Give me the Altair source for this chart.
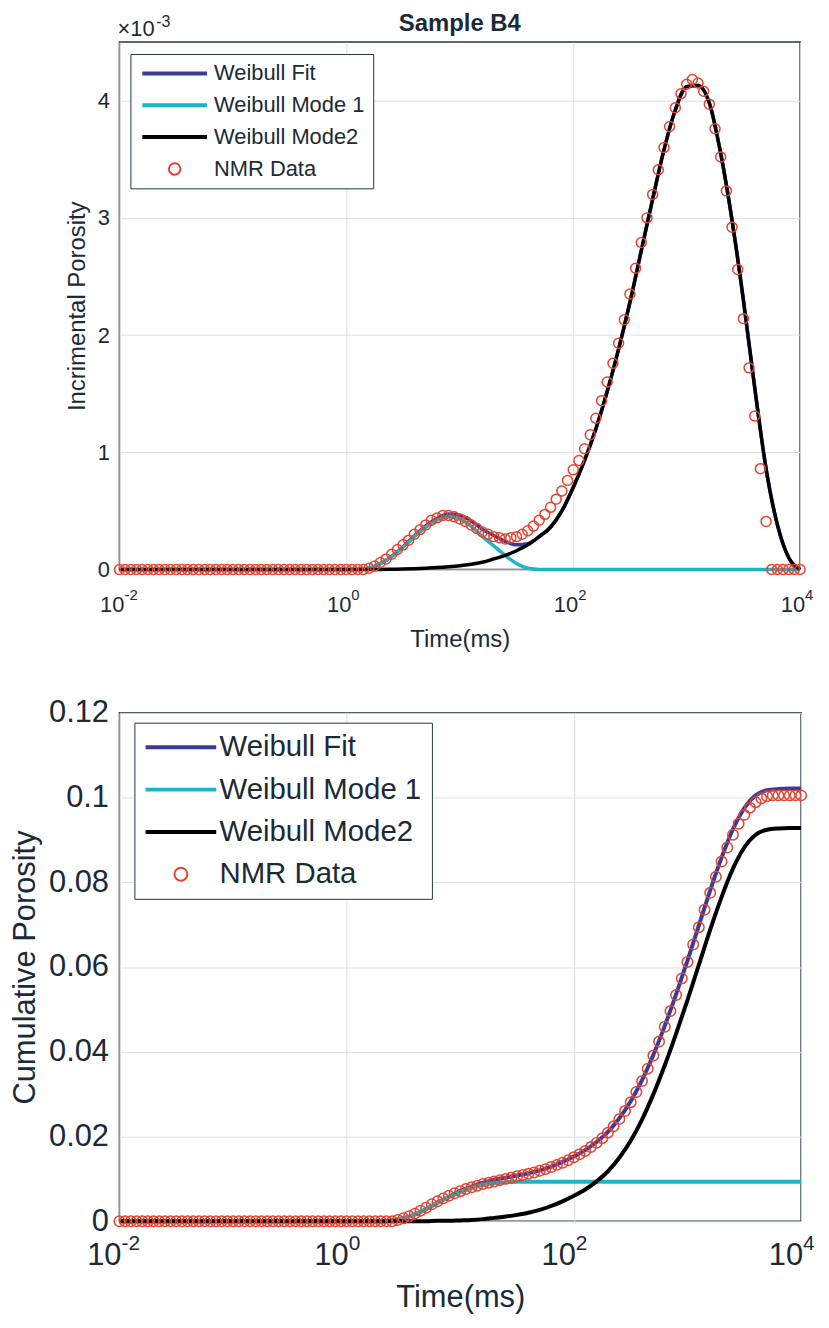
import altair as alt
import pandas as pd

FONT = "Liberation Sans"
TXT = "#1b2a35"
FRAME = "#27353f"
GRID = "#dcdfe3"

SERIES = ["Weibull Fit", "Weibull Mode 1", "Weibull Mode2", "NMR Data"]
COLORS = ["#3a3a99", "#1ab6c6", "#000000", "#e5432f"]

X_TICKS = [0.01, 1, 100, 10000]
X_EXP = ["-2", "0", "2", "4"]

# log10(time / ms) of the NMR samples (20 per decade)
nmr_log_t = [
    -2.00, -1.95, -1.90, -1.85, -1.80, -1.75, -1.70, -1.65, -1.60, -1.55,
    -1.50, -1.45, -1.40, -1.35, -1.30, -1.25, -1.20, -1.15, -1.10, -1.05,
    -1.00, -0.95, -0.90, -0.85, -0.80, -0.75, -0.70, -0.65, -0.60, -0.55,
    -0.50, -0.45, -0.40, -0.35, -0.30, -0.25, -0.20, -0.15, -0.10, -0.05,
    0.00, 0.05, 0.10, 0.15, 0.20, 0.25, 0.30, 0.35, 0.40, 0.45,
    0.50, 0.55, 0.60, 0.65, 0.70, 0.75, 0.80, 0.85, 0.90, 0.95,
    1.00, 1.05, 1.10, 1.15, 1.20, 1.25, 1.30, 1.35, 1.40, 1.45,
    1.50, 1.55, 1.60, 1.65, 1.70, 1.75, 1.80, 1.85, 1.90, 1.95,
    2.00, 2.05, 2.10, 2.15, 2.20, 2.25, 2.30, 2.35, 2.40, 2.45,
    2.50, 2.55, 2.60, 2.65, 2.70, 2.75, 2.80, 2.85, 2.90, 2.95,
    3.00, 3.05, 3.10, 3.15, 3.20, 3.25, 3.30, 3.35, 3.40, 3.45,
    3.50, 3.55, 3.60, 3.65, 3.70, 3.75, 3.80, 3.85, 3.90, 3.95,
    4.00,
]

# incremental porosity of the NMR data (x 1e-3)
nmr_inc = [0.0] * 44 + [
    0.01, 0.03, 0.06, 0.09, 0.13, 0.17, 0.21, 0.25, 0.30, 0.34,
    0.38, 0.42, 0.44, 0.46, 0.46, 0.45, 0.43, 0.41, 0.38, 0.35,
    0.32, 0.30, 0.28, 0.27, 0.26, 0.27, 0.28, 0.30, 0.33, 0.37,
    0.42, 0.47, 0.53, 0.60, 0.67, 0.76, 0.85, 0.93, 1.03, 1.15,
    1.29, 1.44, 1.60, 1.76, 1.93, 2.13, 2.35, 2.57, 2.79, 3.00,
    3.20, 3.41, 3.60, 3.78, 3.94, 4.06, 4.14, 4.18, 4.15, 4.08,
    3.97, 3.76, 3.52, 3.23, 2.92, 2.56, 2.14, 1.72, 1.31, 0.86,
    0.41,
] + [0.0] * 6

# cumulative porosity of the NMR data
nmr_cum = [0.0] * 49 + [
    0.0003, 0.0007, 0.0012, 0.0018, 0.0025, 0.0032, 0.0040, 0.0047, 0.0054, 0.0060,
    0.0066, 0.0071, 0.0076, 0.0080, 0.0084, 0.0088, 0.0091, 0.0094, 0.0097, 0.0100,
    0.0103, 0.0106, 0.0109, 0.0112, 0.0115, 0.0119, 0.0123, 0.0128, 0.0133, 0.0138,
    0.0144, 0.0151, 0.0158, 0.0166, 0.0175, 0.0185, 0.0196, 0.0209, 0.0224, 0.0241,
    0.0260, 0.0281, 0.0305, 0.0331, 0.0360, 0.0391, 0.0424, 0.0459, 0.0496, 0.0534,
    0.0573, 0.0612, 0.0653, 0.0694, 0.0735, 0.0775, 0.0813, 0.0849, 0.0882, 0.0912,
    0.0938, 0.0959, 0.0976, 0.0989, 0.0998, 0.1003,
] + [0.1005] * 6

# log10(time / ms) of the fitted curves
fit_log_t = [
    -2.0, -1.9, -1.8, -1.7, -1.6, -1.5, -1.4, -1.3, -1.2, -1.1,
    -1.0, -0.9, -0.8, -0.7, -0.6, -0.5, -0.4, -0.3, -0.2, -0.1,
    0.0, 0.1, 0.2, 0.3, 0.4, 0.5, 0.6, 0.7, 0.8, 0.9,
    1.0, 1.1, 1.2, 1.3, 1.4, 1.5, 1.6, 1.7, 1.8, 1.9,
    2.0, 2.1, 2.2, 2.3, 2.4, 2.5, 2.6, 2.7, 2.8, 2.9,
    3.0, 3.1, 3.2, 3.3, 3.4, 3.5, 3.6, 3.7, 3.8, 3.9,
    4.0,
]

# incremental curves (x 1e-3)
inc_mode1 = [0.0] * 22 + [
    0.01, 0.05, 0.11, 0.19, 0.28, 0.36, 0.42, 0.45, 0.43, 0.37,
    0.28, 0.20, 0.12, 0.05, 0.01,
] + [0.0] * 24
inc_mode2 = [0.0] * 24 + [
    0.002, 0.004, 0.007, 0.011, 0.016, 0.023, 0.032, 0.045, 0.062, 0.09,
    0.12, 0.16, 0.21, 0.28, 0.36, 0.50, 0.70, 0.93, 1.20, 1.52,
    1.88, 2.28, 2.72, 3.16, 3.58, 3.92, 4.12, 4.13, 3.98, 3.55,
    2.98, 2.30, 1.55, 0.86, 0.38, 0.10, 0.0,
]
inc_fit = [0.0] * 22 + [
    0.01, 0.05, 0.112, 0.194, 0.287, 0.371, 0.436, 0.473, 0.462, 0.415,
    0.342, 0.29, 0.24, 0.21, 0.22, 0.28, 0.36, 0.50, 0.70, 0.93,
    1.20, 1.52, 1.88, 2.28, 2.72, 3.16, 3.58, 3.92, 4.12, 4.13,
    3.98, 3.55, 2.98, 2.30, 1.55, 0.86, 0.38, 0.10, 0.0,
]

# cumulative curves
cum_mode1 = [0.0] * 24 + [
    0.0002, 0.0007, 0.0016, 0.0029, 0.0043, 0.0057, 0.0069, 0.0079, 0.0086, 0.0090,
    0.0092, 0.0093,
] + [0.0093] * 25
cum_mode2 = [0.0] * 28 + [
    0.0001, 0.0001, 0.0002, 0.0003, 0.0005, 0.0008, 0.0011, 0.0015,
    0.0020, 0.0027, 0.0036, 0.0047, 0.0060, 0.0075, 0.0094, 0.0118, 0.0150, 0.0190,
    0.0240, 0.0300, 0.0368, 0.0443, 0.0522, 0.0605, 0.0688, 0.0765, 0.0832, 0.0882,
    0.0912, 0.0924, 0.0927, 0.0928, 0.0928,
]
cum_fit = [0.0] * 24 + [
    0.0002, 0.0007, 0.0016, 0.0029, 0.0044, 0.0058, 0.0071, 0.0082, 0.0091, 0.0098,
    0.0103, 0.0108,
    0.0113, 0.0120, 0.0129, 0.0140, 0.0153, 0.0168, 0.0187, 0.0211, 0.0243, 0.0283,
    0.0333, 0.0393, 0.0461, 0.0536, 0.0615, 0.0698, 0.0781, 0.0858, 0.0925, 0.0975,
    0.1005, 0.1017, 0.1020, 0.1021, 0.1021,
]


def curves_df(fit, m1, m2):
    rows = []
    for name, vals in (("Weibull Fit", fit), ("Weibull Mode 1", m1), ("Weibull Mode2", m2)):
        for u, v in zip(fit_log_t, vals):
            rows.append({"t": 10 ** u, "v": v, "series": name})
    return pd.DataFrame(rows)


def points_df(vals):
    return pd.DataFrame({"t": [10 ** u for u in nmr_log_t], "v": vals, "series": "NMR Data"})


tick_df = pd.DataFrame({"t": X_TICKS, "base": ["10"] * 4, "exp": X_EXP})


def sym_paths(half_len, half_h, r):
    line = f"M-{half_len},-{half_h}H{half_len}V{half_h}H-{half_len}Z"
    circ = f"M{r},0A{r},{r},0,1,1,-{r},0A{r},{r},0,1,1,{r},0Z"
    return [line, line, line, circ]


def panel(lines_df, pts_df, W, H, y_dom, y_vals, y_fmt, y_title, tick_fs, title_fs,
          exp_fs, lab_dy, exp_dy, lab_dx, x_title_pad, y_lab_pad, y_title_pad,
          leg_fs, leg_size, shapes, leg_x, leg_y, leg_row_pad, leg_sym_off, leg_lab_off,
          leg_pad, pt_size, line_w):
    xs = alt.Scale(type="log", domain=[0.01, 10000], nice=False)
    ys = alt.Scale(domain=y_dom, nice=False, zero=False)
    legend = alt.Legend(
        title=None, orient="none", legendX=leg_x, legendY=leg_y,
        fillColor="white", strokeColor=FRAME, padding=leg_pad,
        labelFont=FONT, labelFontSize=leg_fs, labelColor=TXT, labelOffset=leg_lab_off,
        symbolSize=leg_size, symbolOffset=leg_sym_off, rowPadding=leg_row_pad,
        symbolStrokeWidth=2, symbolFillColor="transparent", symbolOpacity=1,
        labelLimit=400,
    )
    color = alt.Color("series:N", scale=alt.Scale(domain=SERIES, range=COLORS), legend=legend)
    shape = alt.Shape("series:N", scale=alt.Scale(domain=SERIES, range=shapes), legend=legend)
    x_enc = alt.X("t:Q", scale=xs, axis=alt.Axis(
        values=X_TICKS, labels=False, ticks=False, domain=False, grid=True,
        gridColor=GRID, gridWidth=1, title="Time(ms)", titleFont=FONT,
        titleFontSize=title_fs, titleFontWeight="normal", titleColor=TXT,
        titlePadding=x_title_pad))
    y_enc = alt.Y("v:Q", scale=ys, axis=alt.Axis(
        values=y_vals, format=y_fmt, ticks=False, domain=False, grid=True,
        gridColor=GRID, gridWidth=1, labelFont=FONT, labelFontSize=tick_fs,
        labelColor=TXT, labelPadding=y_lab_pad, title=y_title, titleFont=FONT,
        titleFontSize=title_fs, titleFontWeight="normal", titleColor=TXT,
        titlePadding=y_title_pad))
    lines = alt.Chart(lines_df).mark_line(strokeWidth=line_w, interpolate="monotone").encode(
        x=x_enc, y=y_enc, color=color,
    )
    pts = alt.Chart(pts_df).mark_point(filled=False, size=pt_size,
                                      strokeWidth=1.5, opacity=1).encode(
        x="t:Q", y="v:Q", color=color, shape=shape)
    base = alt.Chart(tick_df).mark_text(align="right", baseline="alphabetic", font=FONT,
                                        fontSize=tick_fs, color=TXT, dx=lab_dx).encode(
        x="t:Q", y=alt.value(H + lab_dy), text="base:N")
    expo = alt.Chart(tick_df).mark_text(align="left", baseline="alphabetic", font=FONT,
                                        fontSize=exp_fs, color=TXT, dx=lab_dx, dy=exp_dy).encode(
        x="t:Q", y=alt.value(H + lab_dy), text="exp:N")
    return alt.layer(lines, pts, base, expo).properties(width=W, height=H)


TOP_W, TOP_H = 684, 530
top = panel(curves_df(inc_fit, inc_mode1, inc_mode2), points_df(nmr_inc),
            W=TOP_W, H=TOP_H, y_dom=[0, 4.5], y_vals=[0, 1, 2, 3, 4], y_fmt="d",
            y_title="Incrimental Porosity", tick_fs=22, title_fs=24, exp_fs=15,
            lab_dy=43, exp_dy=-12, lab_dx=5, x_title_pad=58, y_lab_pad=10, y_title_pad=8,
            leg_fs=22, leg_size=441, shapes=sym_paths(3, 0.095, 0.55), leg_x=11, leg_y=12,
            leg_row_pad=9, leg_sym_off=25, leg_lab_off=28, leg_pad=8, pt_size=331, line_w=3.5)

annot = pd.DataFrame({"a": [1]})
title_txt = alt.Chart(annot).mark_text(align="center", baseline="alphabetic", font=FONT,
                                       fontSize=24, fontWeight="bold", color=TXT).encode(
    x=alt.value(TOP_W / 2), y=alt.value(-11), text=alt.value("Sample B4"))
mult = alt.Chart(annot).mark_text(align="left", baseline="alphabetic", font=FONT,
                                  fontSize=22, color=TXT).encode(
    x=alt.value(-2), y=alt.value(-6), text=alt.value("\u00d710"))
mult_exp = alt.Chart(annot).mark_text(align="left", baseline="alphabetic", font=FONT,
                                      fontSize=16, color=TXT).encode(
    x=alt.value(37), y=alt.value(-15), text=alt.value("-3"))

top = alt.layer(top, title_txt, mult, mult_exp)

bottom = panel(curves_df(cum_fit, cum_mode1, cum_mode2), points_df(nmr_cum),
               W=685, H=511, y_dom=[0, 0.12], y_vals=[0, 0.02, 0.04, 0.06, 0.08, 0.1, 0.12],
               y_fmt=".2~f", y_title="Cumulative Porosity", tick_fs=31, title_fs=31, exp_fs=21,
               lab_dy=44, exp_dy=-15, lab_dx=2, x_title_pad=62, y_lab_pad=11, y_title_pad=7,
               leg_fs=29.5, leg_size=729, shapes=sym_paths(2.556, 0.074, 0.48), leg_x=15, leg_y=10,
               leg_row_pad=11.5, leg_sym_off=22, leg_lab_off=24, leg_pad=10, pt_size=480, line_w=4)

chart = alt.vconcat(top, bottom, spacing=44).resolve_scale(
    color="independent", shape="independent"
).resolve_legend(color="independent", shape="independent").properties(
    padding={"left": 0, "top": 0, "right": 5, "bottom": 0}
).configure_view(stroke=FRAME, strokeWidth=1.5)

chart.save("out.html", embed_options={"renderer": "svg", "actions": False})
